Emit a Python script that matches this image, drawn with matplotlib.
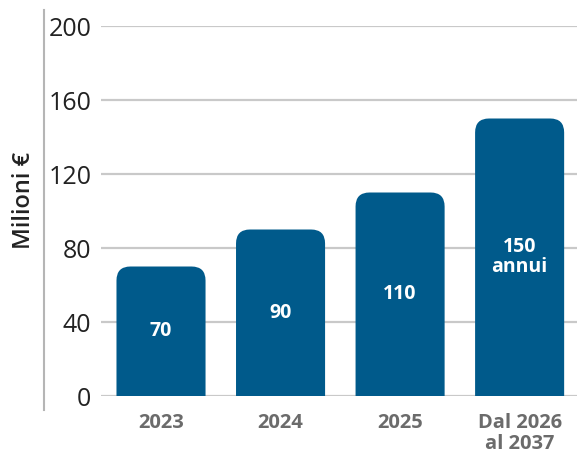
import matplotlib
matplotlib.use("Agg")
from matplotlib import pyplot as plt
from matplotlib.path import Path
from matplotlib.patches import PathPatch
from matplotlib.lines import Line2D

plt.rcParams['font.family'] = ['Open Sans', 'DejaVu Sans']

# dati
categorie = ['2023', '2024', '2025', 'Dal 2026\nal 2037']
valori = [70, 90, 110, 150]
etichette = ['70', '90', '110', '150\nannui']
tick_y = [0, 40, 80, 120, 160, 200]

BLU = '#005a8b'
GRIGIO_GRIGLIA = '#c9c9c9'
GRIGIO_TESTO = '#6b6b6b'
NERO = '#222222'

fig = plt.figure(figsize=(5.77, 4.57), dpi=100)
ax = fig.add_axes([101 / 577, 61 / 457, 476 / 577, 370 / 457])

x = list(range(len(categorie)))
barre = ax.bar(x, valori, width=0.745, color=BLU, zorder=3)

ax.set_xlim(-0.502, 3.48)
ax.set_ylim(0, 200)
fig.canvas.draw()

# angoli superiori arrotondati: raggio in pixel convertito in unità dati
raggio_px = 14
bbox = ax.get_window_extent()
rx = raggio_px * (ax.get_xlim()[1] - ax.get_xlim()[0]) / bbox.width
ry = raggio_px * (ax.get_ylim()[1] - ax.get_ylim()[0]) / bbox.height

for r in barre:
    x0, y0 = r.get_x(), r.get_y()
    x1, y1 = x0 + r.get_width(), y0 + r.get_height()
    verts = [
        (x0, y0), (x0, y1 - ry),
        (x0, y1), (x0 + rx, y1),
        (x1 - rx, y1),
        (x1, y1), (x1, y1 - ry),
        (x1, y0), (x0, y0),
    ]
    codes = [
        Path.MOVETO, Path.LINETO,
        Path.CURVE3, Path.CURVE3,
        Path.LINETO,
        Path.CURVE3, Path.CURVE3,
        Path.LINETO, Path.CLOSEPOLY,
    ]
    ax.add_patch(PathPatch(Path(verts, codes), facecolor=BLU,
                           edgecolor='none', zorder=3))
    r.set_visible(False)

# valori dentro le barre
for xi, v, et in zip(x, valori, etichette):
    ax.text(xi, v / 2, et, ha='center', va='center', color='white',
            fontsize=14, fontweight='bold', linespacing=1.0, zorder=4)

ax.set_yticks(tick_y)
ax.set_yticklabels([str(t) for t in tick_y])
ax.set_xticks(x)
ax.set_xticklabels(categorie)

ax.grid(axis='y', color=GRIGIO_GRIGLIA, linewidth=1.6, zorder=0)
ax.set_axisbelow(True)
for s in ax.spines.values():
    s.set_visible(False)

ax.tick_params(axis='y', length=0, pad=7, labelsize=18, labelcolor=NERO)
ax.tick_params(axis='x', length=0, pad=12, labelsize=14.5, labelcolor=GRIGIO_TESTO)
for lbl in ax.get_xticklabels():
    lbl.set_fontweight('bold')
    lbl.set_linespacing(1.1)

# asse verticale separato
fig.add_artist(Line2D([44 / 577, 44 / 577], [47 / 457, 447 / 457],
                      color='#b5b5b5', linewidth=1.5))

fig.text(24 / 577, 1 - 200 / 457, 'Milioni €', rotation=90, ha='center',
         va='center', fontsize=17, color=NERO, fontweight='semibold')

fig.savefig('out.png', dpi=100)
